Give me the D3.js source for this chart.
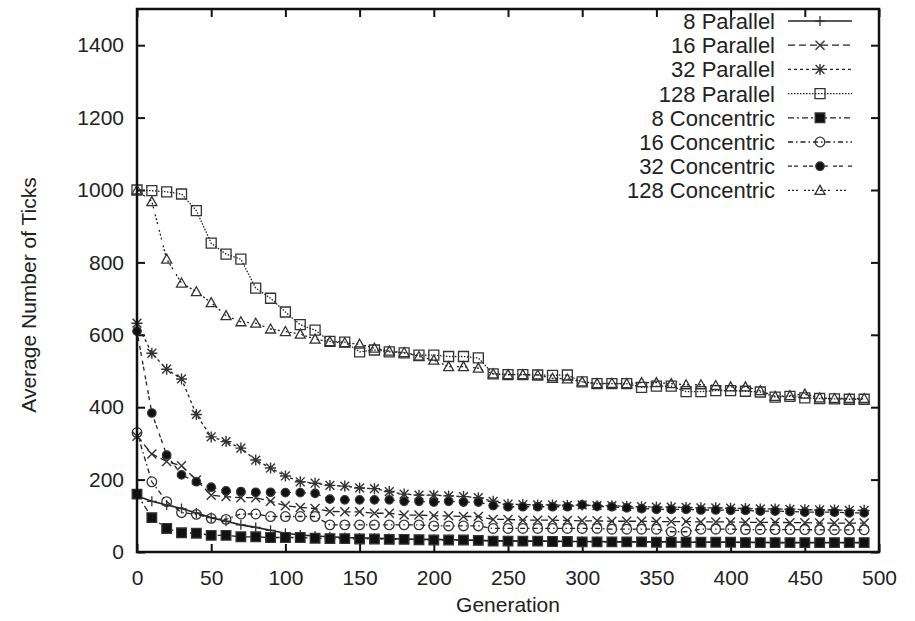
<!DOCTYPE html>
<html>
<head>
<meta charset="utf-8">
<script src="https://cdn.jsdelivr.net/npm/d3@7"></script>
<style>
  body { margin: 0; background: #fff; }
  svg { display: block; }
  text { font-family: "Liberation Sans", Arial, sans-serif; fill: #222; }
</style>
</head>
<body>
<svg></svg>
<script>
// generations where a marker is drawn
const generations = [0, 10, 20, 30, 40, 50, 60, 70, 80, 90, 100, 110, 120, 130, 140, 150, 160, 170, 180, 190,
    200, 210, 220, 230, 240, 250, 260, 270, 280, 290, 300, 310, 320, 330, 340, 350, 360, 370, 380, 390,
    400, 410, 420, 430, 440, 450, 460, 470, 480, 490]

const xTicks = [0, 50, 100, 150, 200, 250, 300, 350, 400, 450, 500]
const yTicks = [0, 200, 400, 600, 800, 1000, 1200, 1400]

const seriesNames = ['8 Parallel', '16 Parallel', '32 Parallel', '128 Parallel',
    '8 Concentric', '16 Concentric', '32 Concentric', '128 Concentric']

// average ticks per generation
const parallel8 = [155, 140, 130, 120, 108, 95, 85, 75, 68, 60, 52, 47, 44, 42, 40, 39, 38, 37, 36, 35,
    35, 34, 33, 32, 31, 31, 30, 30, 30, 29, 29, 29, 28, 28, 28, 28, 28, 27, 27, 27,
    27, 27, 27, 26, 26, 26, 26, 26, 26, 26]
const parallel16 = [320, 271, 250, 238, 199, 157, 153, 150, 150, 140, 128, 123, 120, 112, 111, 111, 107, 107, 102, 102,
    100, 100, 98, 98, 90, 90, 88, 88, 88, 87, 86, 86, 85, 85, 85, 84, 84, 84, 83, 83,
    83, 82, 82, 82, 81, 81, 80, 80, 80, 80]
const parallel32 = [632, 549, 505, 478, 380, 318, 305, 287, 254, 232, 210, 194, 190, 184, 182, 177, 175, 167, 160, 157,
    157, 155, 153, 150, 140, 132, 131, 130, 130, 129, 130, 128, 128, 126, 125, 124, 124, 123, 122, 122,
    121, 120, 119, 119, 118, 117, 116, 116, 115, 115]
const parallel128 = [1000, 998, 995, 989, 943, 853, 823, 809, 729, 701, 663, 628, 613, 582, 580, 553, 558, 553, 550, 544,
    544, 540, 540, 536, 492, 490, 490, 489, 488, 489, 470, 465, 465, 465, 455, 458, 458, 443, 443, 446,
    446, 444, 442, 428, 430, 426, 424, 423, 422, 422]
const concentric8 = [160, 95, 65, 53, 52, 46, 46, 42, 42, 40, 40, 40, 38, 37, 37, 36, 36, 35, 35, 34,
    33, 33, 33, 32, 30, 30, 30, 30, 29, 29, 28, 28, 28, 28, 28, 27, 27, 27, 27, 27,
    27, 26, 26, 26, 26, 26, 26, 26, 26, 26]
const concentric16 = [330, 194, 139, 109, 104, 93, 90, 105, 105, 98, 98, 98, 98, 75, 75, 75, 75, 75, 75, 75,
    72, 72, 72, 72, 65, 65, 65, 65, 65, 65, 65, 65, 63, 63, 63, 63, 56, 56, 63, 63,
    63, 62, 62, 62, 62, 62, 61, 61, 61, 61]
const concentric32 = [610, 384, 268, 213, 194, 179, 169, 167, 165, 165, 164, 164, 162, 146, 144, 144, 144, 144, 140, 140,
    138, 140, 138, 138, 128, 125, 125, 125, 125, 125, 130, 126, 125, 122, 120, 118, 118, 118, 116, 116,
    115, 115, 113, 113, 112, 110, 110, 110, 108, 108]
const concentric128 = [1000, 968, 809, 743, 719, 689, 653, 636, 632, 616, 609, 602, 588, 581, 578, 574, 563, 555, 551, 540,
    530, 512, 512, 508, 492, 490, 490, 489, 480, 478, 470, 465, 466, 465, 468, 468, 465, 462, 462, 460,
    456, 456, 446, 430, 432, 436, 426, 424, 424, 424]

// line dash and marker for each series, gnuplot style
const dashes = ['', '7,4', '3,3', '1.5,1.5', '6,3,2,3', '5,3,1.5,3', '4,2,4,5', '2,2,2,2,2,6']
const markers = ['plus', 'cross', 'star', 'square', 'fsquare', 'circle', 'fcircle', 'triangle']

document.addEventListener('DOMContentLoaded', function() {
    let values = [parallel8, parallel16, parallel32, parallel128,
        concentric8, concentric16, concentric32, concentric128]
    let data = seriesNames.map(function(name, i) {
        return {
            name: name,
            dash: dashes[i],
            marker: markers[i],
            points: generations.map(function(g, j) { return { g: g, v: values[i][j] } })
        }
    })
    drawChart(data)
})

// path for a gnuplot-like point symbol of half size s
function markerPath(type, s) {
    if (type === 'plus') return 'M' + (-s) + ',0H' + s + 'M0,' + (-s) + 'V' + s
    if (type === 'cross') return 'M' + (-s) + ',' + (-s) + 'L' + s + ',' + s + 'M' + (-s) + ',' + s + 'L' + s + ',' + (-s)
    if (type === 'star') return markerPath('plus', s) + markerPath('cross', s * 0.8)
    if (type === 'square' || type === 'fsquare') return 'M' + (-s) + ',' + (-s) + 'h' + 2 * s + 'v' + 2 * s + 'h' + (-2 * s) + 'Z'
    if (type === 'circle' || type === 'fcircle') {
        return 'M' + s + ',0A' + s + ',' + s + ' 0 1,1 ' + (-s) + ',0A' + s + ',' + s + ' 0 1,1 ' + s + ',0Z'
    }
    if (type === 'triangle') return 'M0,' + (-s) + 'L' + s + ',' + (s * 0.8) + 'L' + (-s) + ',' + (s * 0.8) + 'Z'
}

function drawMarker(sel, type) {
    let filled = type === 'fsquare' || type === 'fcircle'
    let size = { plus: 5, cross: 4.5, star: 5.5, square: 5, fsquare: 4.8, circle: 4.8, fcircle: 4.2, triangle: 5 }[type]
    sel.append('path')
        .attr('d', markerPath(type, size))
        .attr('fill', filled ? '#111' : 'none')
        .attr('stroke', '#333')
        .attr('stroke-width', type === 'star' || type === 'cross' ? 1.4 : 1.3)
}

function drawChart(data) {
    let svgWidth = 915, svgHeight = 621
    let margin = { top: 9, right: 36, bottom: 69, left: 137 }
    let width = svgWidth - margin.left - margin.right
    let height = svgHeight - margin.top - margin.bottom

    let svg = d3.select('svg')
        .attr('width', svgWidth)
        .attr('height', svgHeight)

    let g = svg.append('g')
        .attr('transform', 'translate(' + margin.left + ',' + margin.top + ')')

    let x = d3.scaleLinear().domain([0, 500]).range([0, width])
    let y = d3.scaleLinear().domain([0, 1500]).range([height, 0])

    // axes with inward ticks on all four sides
    let axes = [
        { axis: d3.axisBottom(x).tickValues(xTicks).tickSize(-8).tickPadding(18).tickFormat(d3.format('d')), at: [0, height] },
        { axis: d3.axisTop(x).tickValues(xTicks).tickSize(-8).tickFormat(''), at: [0, 0] },
        { axis: d3.axisLeft(y).tickValues(yTicks).tickSize(-8).tickPadding(13).tickFormat(d3.format('d')), at: [0, 0] },
        { axis: d3.axisRight(y).tickValues(yTicks).tickSize(-8).tickFormat(''), at: [width, 0] }
    ]
    axes.forEach(function(a) {
        let ag = g.append('g')
            .attr('transform', 'translate(' + a.at[0] + ',' + a.at[1] + ')')
            .call(a.axis)
        ag.select('.domain').remove()
        ag.selectAll('.tick line').attr('stroke', '#111').attr('stroke-width', 2)
        ag.selectAll('.tick text')
            .attr('font-size', 21)
            .attr('font-family', '"Liberation Sans", Arial, sans-serif')
            .attr('fill', '#222')
    })

    let line = d3.line()
        .x(function(d) { return x(d.g) })
        .y(function(d) { return y(d.v) })

    let series = g.selectAll('.series')
        .data(data)
        .enter().append('g')
        .attr('class', 'series')

    series.append('path')
        .attr('fill', 'none')
        .attr('stroke', '#222')
        .attr('stroke-width', function(d, i) { return i === 0 ? 1.6 : 1.3 })
        .attr('stroke-dasharray', function(d) { return d.dash })
        .attr('d', function(d) { return line(d.points) })

    series.each(function(d) {
        let pts = d3.select(this).selectAll('.pt')
            .data(d.points)
            .enter().append('g')
            .attr('class', 'pt')
            .attr('transform', function(p) { return 'translate(' + x(p.g) + ',' + y(p.v) + ')' })
        drawMarker(pts, d.marker)
    })

    // plot frame
    g.append('rect')
        .attr('width', width)
        .attr('height', height)
        .attr('fill', 'none')
        .attr('stroke', '#111')
        .attr('stroke-width', 2.5)

    // legend, top right inside the frame
    let legend = g.selectAll('.legend')
        .data(data)
        .enter().append('g')
        .attr('class', 'legend')
        .attr('transform', function(d, i) { return 'translate(0,' + (12 + i * 24.2) + ')' })

    legend.append('text')
        .attr('x', 638)
        .attr('dy', '0.36em')
        .attr('text-anchor', 'end')
        .attr('font-size', 22)
        .text(function(d) { return d.name })

    legend.append('line')
        .attr('x1', 651)
        .attr('x2', 715)
        .attr('stroke', '#222')
        .attr('stroke-width', function(d, i) { return i === 0 ? 1.6 : 1.3 })
        .attr('stroke-dasharray', function(d) { return d.dash })

    legend.each(function(d) {
        let m = d3.select(this).append('g').attr('transform', 'translate(683,0)')
        drawMarker(m, d.marker)
    })

    // axis titles
    svg.append('text')
        .attr('transform', 'translate(36,' + (margin.top + 286) + ') rotate(-90)')
        .attr('text-anchor', 'middle')
        .attr('font-size', 21)
        .text('Average Number of Ticks')

    svg.append('text')
        .attr('x', margin.left + width / 2)
        .attr('y', 612)
        .attr('text-anchor', 'middle')
        .attr('font-size', 21)
        .text('Generation')
}
</script>
</body>
</html>
